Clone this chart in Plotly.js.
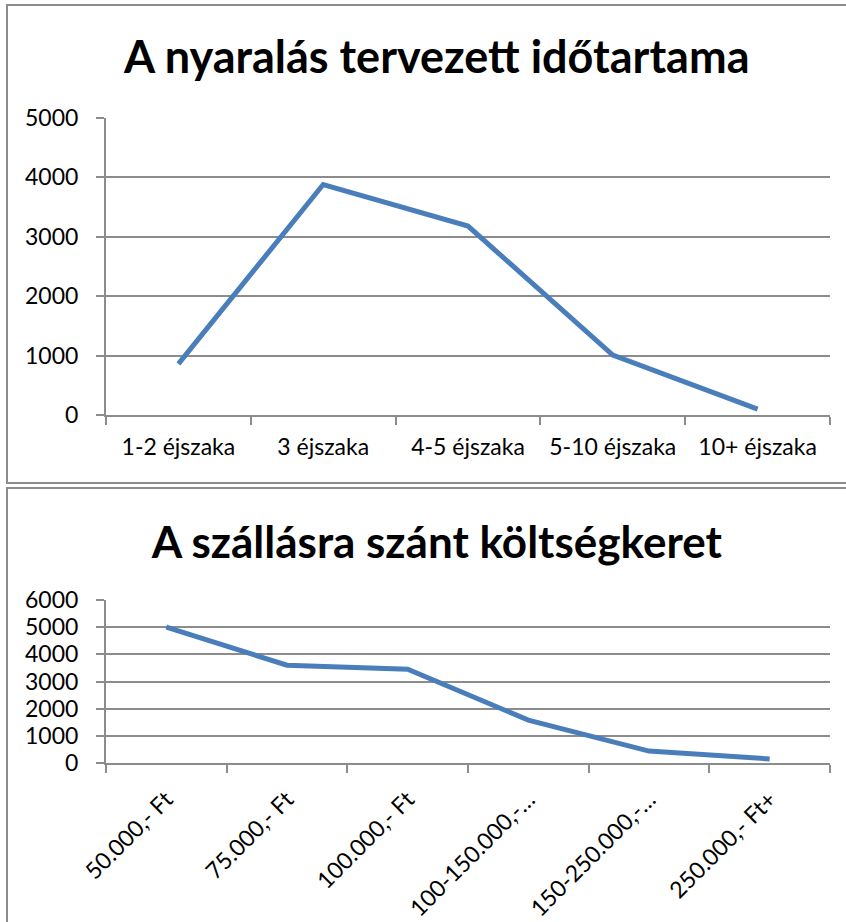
<!DOCTYPE html>
<html>
<head>
<meta charset="utf-8">
<script src="https://cdn.plot.ly/plotly-3.0.1.min.js"></script>
<style>
  body { margin: 0; background: #fff; overflow: hidden; }
  .box { position: absolute; left: 6px; width: 844px; border: 2px solid #8c8c8c; background: #fff; }
  #chart1 { top: 4px; height: 476px; }
  #chart2 { top: 487px; height: 440px; }
</style>
</head>
<body>
<div id="chart1" class="box"></div>
<div id="chart2" class="box"></div>
<script>
// Chart 1: planned holiday length
var nights = ['1-2 éjszaka', '3 éjszaka', '4-5 éjszaka', '5-10 éjszaka', '10+ éjszaka'];
var nightsCount = [860, 3880, 3180, 1010, 100];

// Chart 2: accommodation budget
var budget = ['50.000,- Ft', '75.000,- Ft', '100.000,- Ft', '100-150.000,-…', '150-250.000,-…', '250.000,- Ft+'];
var budgetCount = [5000, 3600, 3450, 1580, 440, 150];

var lineColor = '#4a7ebb';
var gridColor = '#8c8c8c';
var font = 'Lato, "Open Sans", sans-serif';

var config = { displayModeBar: false, staticPlot: true };

function xAxis(extra) {
    var ax = {
        type: 'category',
        showgrid: false,
        showline: true,
        linecolor: gridColor,
        linewidth: 2,
        zeroline: false,
        ticks: 'outside',
        tickson: 'boundaries',
        ticklen: 8,
        tickcolor: gridColor,
        tickwidth: 2,
        tickfont: { family: font, size: 23, color: '#000' }
    };
    return Object.assign(ax, extra);
}

function yAxis(extra) {
    var ax = {
        showgrid: true,
        gridcolor: gridColor,
        gridwidth: 2,
        showline: true,
        linecolor: gridColor,
        linewidth: 2,
        zeroline: false,
        ticks: 'outside',
        ticklen: 8,
        tickcolor: gridColor,
        tickwidth: 2,
        ticklabelstandoff: 13,
        tickfont: { family: font, size: 23, color: '#000' }
    };
    return Object.assign(ax, extra);
}

var trace1 = {
    x: nights,
    y: nightsCount,
    type: 'scatter',
    mode: 'lines',
    line: { color: lineColor, width: 5 }
};

var layout1 = {
    width: 844,
    height: 476,
    margin: { l: 98, r: 22, t: 112, b: 67 },
    paper_bgcolor: '#fff',
    plot_bgcolor: '#fff',
    showlegend: false,
    title: {
        text: '<b>A nyaralás tervezett időtartama</b>',
        font: { family: font, size: 45, color: '#000' },
        x: 0.508, xref: 'container', xanchor: 'center',
        y: 1 - 51 / 476, yref: 'container', yanchor: 'middle'
    },
    xaxis: xAxis({ range: [-0.5, 4.5], ticklabelstandoff: 10 }),
    yaxis: yAxis({ range: [0, 5000], dtick: 1000 })
};

Plotly.newPlot('chart1', [trace1], layout1, config);

var trace2 = {
    x: budget,
    y: budgetCount,
    type: 'scatter',
    mode: 'lines',
    line: { color: lineColor, width: 5 }
};

var layout2 = {
    width: 844,
    height: 440,
    margin: { l: 98, r: 22, t: 111, b: 166 },
    paper_bgcolor: '#fff',
    plot_bgcolor: '#fff',
    showlegend: false,
    title: {
        text: '<b>A szállásra szánt költségkeret</b>',
        font: { family: font, size: 44, color: '#000' },
        x: 0.508, xref: 'container', xanchor: 'center',
        y: 1 - 54 / 440, yref: 'container', yanchor: 'middle'
    },
    xaxis: xAxis({ range: [-0.5, 5.5], tickangle: -45, ticklabelstandoff: 12 }),
    yaxis: yAxis({ range: [0, 6000], dtick: 1000 })
};

Plotly.newPlot('chart2', [trace2], layout2, config);
</script>
</body>
</html>
